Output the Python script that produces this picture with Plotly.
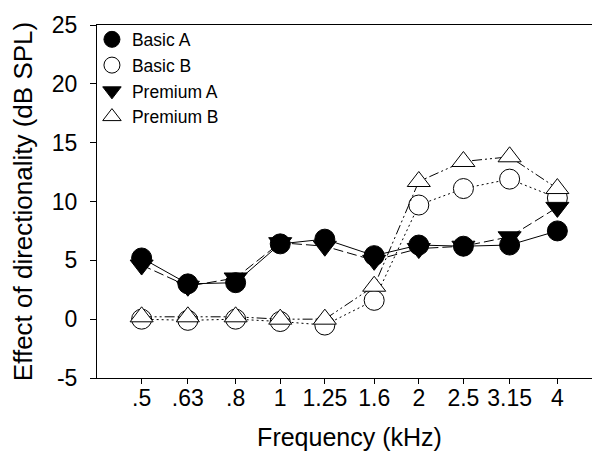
import plotly.graph_objects as go

freqs = [0.5, 0.63, 0.8, 1.0, 1.25, 1.6, 2.0, 2.5, 3.15, 4.0]
tick_labels = [".5", ".63", ".8", "1", "1.25", "1.6", "2", "2.5", "3.15", "4"]
y_ticks = [-5, 0, 5, 10, 15, 20, 25]
y_tick_labels = ["-5", "0", "5", "10", "15", "20", "25"]

basic_a = [5.2, 3.0, 3.1, 6.4, 6.8, 5.4, 6.3, 6.2, 6.3, 7.5]
basic_b = [0.0, -0.1, 0.0, -0.2, -0.5, 1.6, 9.7, 11.1, 11.9, 10.3]
premium_a = [4.6, 2.8, 3.5, 6.5, 6.2, 5.0, 6.0, 6.2, 7.0, 9.5]
premium_b = [0.2, 0.2, 0.2, 0.0, 0.0, 2.8, 11.7, 13.4, 13.8, 11.1]

FONT = "Liberation Sans, Arial, sans-serif"
MSIZE = 20

fig = go.Figure()

def add(name, y, symbol, fill, dash, rank):
    marker = dict(symbol=symbol, size=MSIZE, color=fill,
                  line=dict(color="black", width=1))
    fig.add_trace(go.Scatter(
        x=freqs, y=y, name=name, mode="lines+markers",
        line=dict(color="black", width=1, dash=dash),
        marker=marker, showlegend=False,
    ))
    # legend entry showing the marker only
    fig.add_trace(go.Scatter(
        x=[None], y=[None], name=name, mode="markers",
        marker=marker, showlegend=True, legendrank=rank,
    ))

add("Basic B", basic_b, "circle", "white", "2px,3px", 2)
add("Premium A", premium_a, "triangle-down", "black", "10px,4px", 3)
add("Basic A", basic_a, "circle", "black", "solid", 1)
add("Premium B", premium_b, "triangle-up", "white", "10px,3px,2px,3px,2px,3px", 4)

fig.update_layout(
    width=600, height=460,
    margin=dict(l=89, r=6, t=17, b=90),
    paper_bgcolor="white", plot_bgcolor="white",
    font=dict(family=FONT, color="black", size=23),
    legend=dict(x=-0.01, y=1.01, xanchor="left", yanchor="top",
                bgcolor="rgba(0,0,0,0)", borderwidth=0,
                font=dict(size=17.5), itemsizing="trace",
                tracegroupgap=0),
    showlegend=True,
)

fig.update_xaxes(
    type="log", range=[-0.398, 0.699],
    tickvals=freqs, ticktext=tick_labels,
    ticks="outside", ticklen=5, tickcolor="black",
    showline=True, linecolor="black", linewidth=1, mirror=True,
    showgrid=False, zeroline=False, automargin=False,
    title=dict(text="Frequency (kHz)", font=dict(size=25), standoff=18),
    tickfont=dict(size=23), ticklabelstandoff=-6,
)
fig.update_yaxes(
    range=[-5, 25], tickvals=y_ticks, ticktext=y_tick_labels,
    ticks="outside", ticklen=6, tickcolor="black",
    showline=True, linecolor="black", linewidth=1, mirror=True,
    showgrid=False, zeroline=False, automargin=False,
    title=dict(text="Effect of directionality (dB SPL)", font=dict(size=26), standoff=11),
    tickfont=dict(size=23), ticklabelstandoff=8,
)

fig.write_html("out.html")
